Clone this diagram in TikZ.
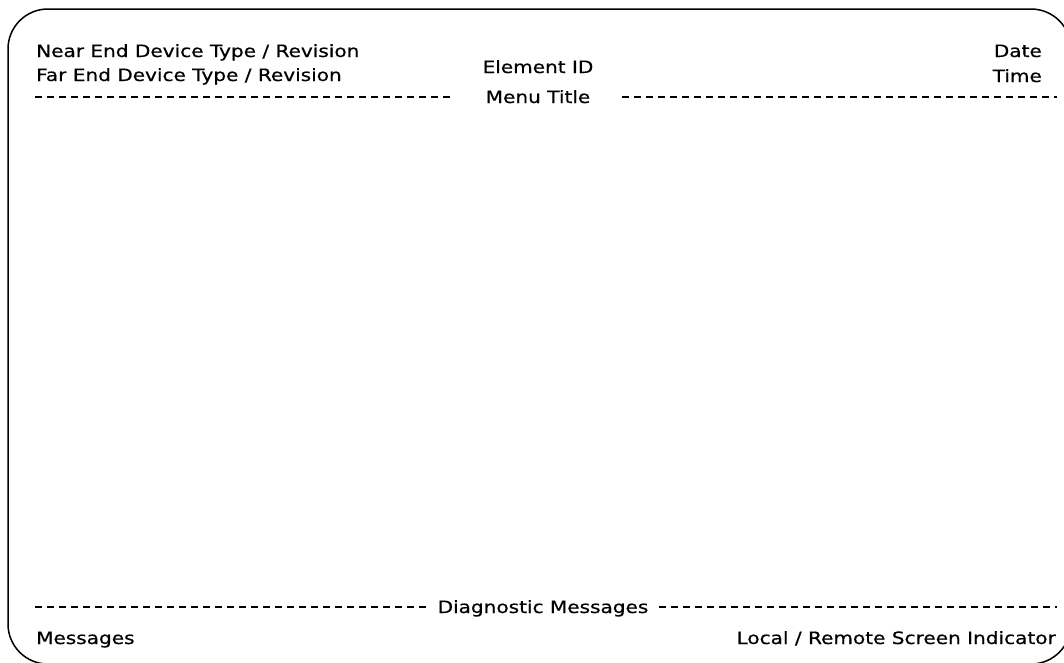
\documentclass[tikz,border=0pt]{standalone}
\usepackage{fontspec}
\setmainfont{DejaVu Sans}[FakeStretch=1.18,FakeBold=0.6]
\begin{document}
\begin{tikzpicture}[x=1pt,y=-1pt,
  lbl/.style={inner sep=0pt,font=\fontsize{17}{24}\selectfont},
  rule/.style={line width=2.6pt,dash pattern=on 7pt off 5pt},
  frame/.style={line width=1.5pt,rounded corners=40pt}]
\useasboundingbox (0,0) rectangle (1064,662);
% screen outline
\draw[frame] (8,9) rectangle (1071,664);

% header lines
\node[lbl,anchor=base west] (near) at (36,57) {Near End Device Type / Revision};
\node[lbl,anchor=base west] (far)  at (36,81) {Far End Device Type / Revision};
\node[lbl,anchor=base] (elem) at (538,73) {Element ID};
\node[lbl,anchor=base] (menu) at (538,103) {Menu Title};
\node[lbl,anchor=base east] (date) at (1042,57) {Date};
\node[lbl,anchor=base east] (time) at (1042,82) {Time};

% menu title rule
\coordinate (tl) at (35,97);
\coordinate (tr) at (1057,97);
\draw[rule] (tl) -- ([xshift=-32pt]menu.west |- tl);
\draw[rule] ([xshift=32pt]menu.east |- tr) -- (tr);

% footer
\node[lbl,anchor=base] (diag) at (543,613) {Diagnostic Messages};
\coordinate (bl) at (35,607);
\coordinate (br) at (1057,607);
\draw[rule] (bl) -- ([xshift=-10pt]diag.west |- bl);
\draw[rule] ([xshift=10pt]diag.east |- br) -- (br);
\node[lbl,anchor=base west] (msg) at (36,644) {Messages};
\node[lbl,anchor=base east] (lri) at (1056,644) {Local / Remote Screen Indicator};
\end{tikzpicture}
\end{document}
